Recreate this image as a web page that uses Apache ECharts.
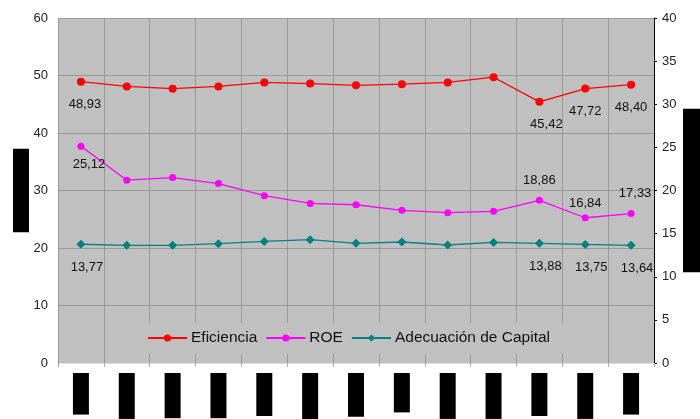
<!DOCTYPE html>
<html>
<head>
<meta charset="utf-8">
<script src="https://cdn.jsdelivr.net/npm/echarts@6/dist/echarts.min.js"></script>
<style>html,body{margin:0;padding:0;background:#fff}#c{width:700px;height:419px}</style>
</head>
<body>
<div id="c"></div>
<script>
var categories = ['Dic-05','Ene-06','Feb-06','Mar-06','Abr-06','May-06','Jun-06','Jul-06','Ago-06','Sep-06','Oct-06','Nov-06','Dic-06'];
var eficiencia = [48.93, 48.1, 47.7, 48.1, 48.8, 48.6, 48.3, 48.5, 48.8, 49.7, 45.42, 47.72, 48.40];
var roe = [25.12, 21.2, 21.5, 20.8, 19.4, 18.5, 18.35, 17.7, 17.43, 17.58, 18.86, 16.84, 17.33];
var adecuacion = [13.77, 13.64, 13.64, 13.83, 14.1, 14.3, 13.87, 14.03, 13.68, 13.98, 13.88, 13.75, 13.64];
var labeledIdx = [0, 10, 11, 12];
var leftTicks = [0, 10, 20, 30, 40, 50, 60];
var rightTicks = [0, 5, 10, 15, 20, 25, 30, 35, 40];

var FONT = '"Liberation Sans", Arial, sans-serif';
function fmt(v){ return v.toFixed(2).replace('.', ','); }

function withLabels(values, posFn){
  return values.map(function(v, i){
    if (labeledIdx.indexOf(i) < 0) return v;
    var p = posFn(i);
    return { value: v, label: { show: true, position: p.pos, distance: p.dist, offset: p.off,
      formatter: function(){ return fmt(v); },
      color: '#111', fontSize: 13, fontFamily: FONT } };
  });
}

var chart = echarts.init(document.getElementById('c'), null, {renderer: 'canvas'});
chart.setOption({
  backgroundColor: '#fff',
  animation: false,
  grid: { left: 58, right: 46, top: 18, bottom: 56, show: true, backgroundColor: '#C0C0C0', borderWidth: 0,
    containLabel: false, outerBoundsMode: 'none' },
  legend: {
    data: ['Eficiencia', 'ROE', 'Adecuación de Capital'],
    left: 107, top: 323,
    padding: [7, 40, 8, 40],
    backgroundColor: '#C0C0C0',
    itemWidth: 39, itemHeight: 9, itemGap: 8,
    textStyle: { fontFamily: FONT, fontSize: 15.5, color: '#111', padding: [0,0,0,-1] }
  },
  xAxis: {
    type: 'category', data: categories, boundaryGap: true,
    axisLine: { show: true, lineStyle: { color: '#E0E0E0', width: 1 } },
    axisTick: { show: true, length: 4, lineStyle: { color: '#B0B0B0' } },
    splitLine: { show: true, lineStyle: { color: '#999', width: 1 } },
    axisLabel: { rotate: 90, margin: 10, color: '#000', backgroundColor: '#000', fontSize: 13,
      lineHeight: 14, fontFamily: FONT, padding: [1, 2, 1, 2] }
  },
  yAxis: [
    { type: 'value', min: 0, max: 60, interval: 10, position: 'left',
      name: 'Eficiencia (%)', nameLocation: 'middle', nameGap: 29, nameRotate: 90, nameMoveOverlap: false,
      nameTextStyle: { color: '#000', backgroundColor: '#000', fontSize: 13, lineHeight: 14, fontFamily: FONT, padding: [1, 2, 1, 2] },
      axisLine: { show: false }, axisTick: { show: false },
      splitLine: { show: true, lineStyle: { color: '#999', width: 1 } },
      axisLabel: { margin: 10, color: '#222', fontSize: 13, fontFamily: FONT,
        formatter: function(v){ return leftTicks.indexOf(v) >= 0 ? String(v) : ''; } } },
    { type: 'value', min: 0, max: 40, interval: 5, position: 'right',
      name: 'ROE y Adecuación (%)', nameLocation: 'middle', nameGap: 29, nameRotate: -90, nameMoveOverlap: false,
      nameTextStyle: { color: '#000', backgroundColor: '#000', fontSize: 13, lineHeight: 14, fontFamily: FONT, padding: [2, 15, 2, 15] },
      axisLine: { show: true, lineStyle: { color: '#000', width: 1 } },
      axisTick: { show: true, length: 3, lineStyle: { color: '#000' } },
      splitLine: { show: false },
      axisLabel: { margin: 8, color: '#222', fontSize: 13, fontFamily: FONT,
        formatter: function(v){ return rightTicks.indexOf(v) >= 0 ? String(v) : ''; } } }
  ],
  series: [
    { name: 'Eficiencia', type: 'line', yAxisIndex: 0,
      data: withLabels(eficiencia, function(i){
        var dx = i === 0 ? 4 : (i === 10 ? 7 : 0);
        return { pos: 'bottom', dist: 12, off: [dx, 0] };
      }),
      symbol: 'circle', symbolSize: 8, itemStyle: { color: '#FF0000' },
      lineStyle: { color: '#FF0000', width: 1.3 } },
    { name: 'ROE', type: 'line', yAxisIndex: 1,
      data: withLabels(roe, function(i){
        if (i === 0) return { pos: 'bottom', dist: 8, off: [8, 0] };
        if (i === 11) return { pos: 'top', dist: 4, off: [0, 0] };
        return { pos: 'top', dist: 10, off: [i === 12 ? 4 : 0, 0] };
      }),
      symbol: 'circle', symbolSize: 7, itemStyle: { color: '#FF00FF' },
      lineStyle: { color: '#FF00FF', width: 1.3 } },
    { name: 'Adecuación de Capital', type: 'line', yAxisIndex: 1,
      data: withLabels(adecuacion, function(i){ return { pos: 'bottom', dist: 12, off: [6, 0] }; }),
      symbol: 'diamond', symbolSize: 9, itemStyle: { color: '#008080' },
      lineStyle: { color: '#008080', width: 1.3 } }
  ]
});
</script>
</body>
</html>
